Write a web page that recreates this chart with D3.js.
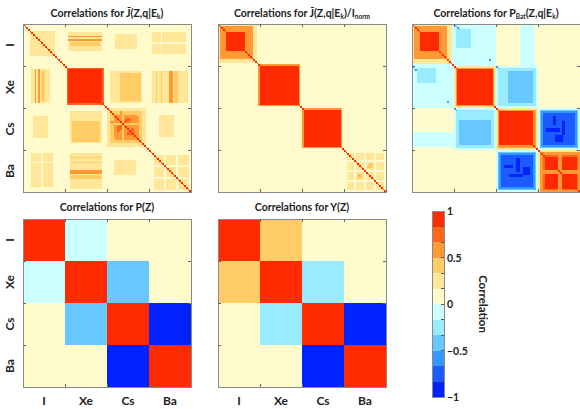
<!DOCTYPE html>
<html>
<head>
<meta charset="utf-8">
<script src="https://cdn.jsdelivr.net/npm/d3@7/dist/d3.min.js"></script>
<style>
    body { margin: 0; background: #fff; }
    text { font-family: Lato, 'Open Sans', sans-serif; fill: #222; }
</style>
</head>
<body>
<svg id="chart" width="580" height="409"></svg>
<script>
// element blocks along both axes
const labels = ['I', 'Xe', 'Cs', 'Ba'];
// q bins across the four elements (25 per element)
const gridSize = 100;

// correlation patches: [row0, row1, col0, col1, value]
// painted in order, mirrored across the diagonal
const jbarPatches = [
    [0, 100, 0, 100, 0.08],
    [4, 19, 4, 19, 0.25],
    [5, 16, 27, 47, 0.25],
    [7, 8, 27, 47, 0.6],
    [9, 10, 27, 47, 0.6],
    [11, 13, 28, 46, 0.4],
    [26, 48, 26, 48, 0.75],
    [27, 47, 27, 47, 1],
    [28, 47, 52, 71, 0.25],
    [29, 46, 58, 70, 0.4],
    [28, 47, 77, 98, 0.25],
    [28, 47, 79, 80, 0.4],
    [28, 47, 82, 83, 0.4],
    [28, 47, 87, 89, 0.6],
    [28, 47, 90, 92, 0.4],
    [6, 15, 55, 68, 0.25],
    [5, 18, 77, 97, 0.25],
    [5, 18, 82, 83, 0.08],
    [11, 12, 77, 97, 0.08],
    [50, 73, 50, 73, 0.25],
    [52, 71, 52, 71, 0.4],
    [54, 69, 55, 68, 0.6],
    [52, 54, 58, 60, 0.6],
    [57, 59, 60, 63, 0.75],
    [61, 64, 56, 58, 0.75],
    [64, 66, 62, 65, 0.75],
    [59, 60, 52, 70, 0.4],
    [54, 67, 81, 90, 0.25],
    [78, 99, 78, 99, 0.25],
    [84, 85, 78, 99, 0.08],
    [91, 92, 78, 99, 0.08]
];

const jnormPatches = [
    [0, 100, 0, 100, 0.08],
    [0, 23, 0, 23, 0.25],
    [1, 21, 1, 21, 0.6],
    [5, 16, 5, 16, 1],
    [24, 49, 24, 49, 0.6],
    [25, 48, 25, 48, 1],
    [50, 74, 50, 74, 0.6],
    [51, 73, 51, 73, 1],
    [77, 99, 77, 99, 0.25],
    [81, 82, 77, 99, 0.08],
    [87, 88, 77, 99, 0.08],
    [93, 94, 77, 99, 0.08],
    [83, 86, 89, 92, 0.4]
];

const pbatPatches = [
    [0, 100, 0, 100, 0.08],
    [0, 25, 24, 50, -0.1],
    [0, 25, 64, 73, -0.1],
    [25, 50, 50, 75, -0.1],
    [3, 14, 26, 35, -0.25],
    [26, 49, 51, 74, -0.25],
    [28, 47, 57, 72, -0.4],
    [0, 24, 0, 24, 0.25],
    [1, 21, 1, 21, 0.6],
    [5, 16, 5, 16, 1],
    [25, 50, 25, 50, 0.25],
    [26, 49, 26, 49, 0.6],
    [27, 48, 27, 48, 1],
    [50, 75, 50, 75, 0.25],
    [51, 74, 51, 74, 0.6],
    [52, 72, 52, 72, 1],
    [50, 75, 75, 100, -0.1],
    [51, 74, 76, 99, -0.4],
    [52, 73, 77, 98, -0.6],
    [53, 72, 78, 97, -0.75],
    [55, 60, 84, 86, -0.9],
    [58, 66, 89, 91, -0.9],
    [62, 64, 80, 88, -0.9],
    [66, 70, 85, 90, -0.9],
    [75, 100, 75, 100, 0.25],
    [76, 100, 76, 100, 0.6],
    [78, 99, 78, 99, 0.75],
    [87, 89, 78, 99, 0.6],
    [79, 87, 79, 87, 1],
    [89, 98, 89, 98, 1],
    [79, 87, 89, 98, 1],
    [0, 1, 25, 26, -0.6],
    [1, 2, 26, 27, -0.6],
    [2, 3, 27, 28, -0.6],
    [21, 22, 46, 47, -0.6],
    [25, 26, 50, 51, -0.6],
    [26, 27, 51, 52, -0.6],
    [72, 73, 97, 98, -0.6],
    [73, 74, 98, 99, -0.6]
];

// element-level correlations
const pZ = [
    [1, -0.1, 0.05, 0.05],
    [-0.1, 1, -0.45, 0.05],
    [0.05, -0.45, 1, -0.95],
    [0.05, 0.05, -0.95, 1]
];
const yZ = [
    [1, 0.4, 0.05, 0.05],
    [0.4, 1, -0.25, 0.05],
    [0.05, -0.25, 1, -0.95],
    [0.05, 0.05, -0.95, 1]
];

const colorbarTicks = [1, 0.5, 0, -0.5, -1];

const palette = ['#0022ff', '#1a5cff', '#3399ff', '#66c8ff', '#99ebff', '#ccffff',
    '#fffbcc', '#ffe699', '#ffcc66', '#ff9933', '#ff6619', '#ff2a00'];
const color = d3.scaleQuantize().domain([-1, 1]).range(palette);

const panelSize = 168;
const svg = d3.select('#chart');

/**
 * Paints the patches into a gridSize x gridSize matrix, self-correlation on the diagonal.
 */
function buildMatrix(patches) {
    const m = Array.from({ length: gridSize }, () => new Array(gridSize).fill(0));
    patches.forEach(([r0, r1, c0, c1, v]) => {
        for (let r = r0; r < r1; r++) {
            for (let c = c0; c < c1; c++) {
                m[r][c] = v;
                m[c][r] = v;
            }
        }
    });
    for (let i = 0; i < gridSize; i++) m[i][i] = 1;
    return m;
}

/**
 * Frame plus inward ticks at the element boundaries.
 */
function drawFrame(g) {
    g.append('rect')
        .attr('width', panelSize)
        .attr('height', panelSize)
        .attr('fill', 'none')
        .attr('stroke', '#8a8a8a')
        .attr('stroke-width', 1)
        .attr('shape-rendering', 'crispEdges');
    const pos = [1, 2, 3].map(i => i * panelSize / 4);
    const ticks = [];
    pos.forEach(p => {
        ticks.push([p, 0, p, 3], [p, panelSize, p, panelSize - 3]);
        ticks.push([0, p, 3, p], [panelSize, p, panelSize - 3, p]);
    });
    g.selectAll('line.tick')
        .data(ticks)
        .join('line')
        .attr('class', 'tick')
        .attr('x1', d => d[0]).attr('y1', d => d[1])
        .attr('x2', d => d[2]).attr('y2', d => d[3])
        .attr('stroke', '#666')
        .attr('shape-rendering', 'crispEdges');
}

function drawTitle(x, y, parts) {
    const t = svg.append('text')
        .attr('x', x)
        .attr('y', y)
        .attr('text-anchor', 'middle')
        .attr('font-size', 10.5)
        .attr('font-weight', 700);
    let lowered = false;
    parts.forEach(p => {
        if (typeof p === 'string') {
            t.append('tspan').attr('dy', lowered ? -2 : 0).text(p);
            lowered = false;
        } else {
            t.append('tspan').attr('font-size', 6.5).attr('dy', 2).text(p.sub);
            lowered = true;
        }
    });
}

/**
 * Heat map of a fine q-resolved correlation matrix, rows merged into runs.
 */
function drawFine(x0, y0, patches) {
    const matrix = buildMatrix(patches);
    const scale = d3.scaleLinear().domain([0, gridSize]).range([0, panelSize]);
    const runs = [];
    matrix.forEach((row, r) => {
        let start = 0;
        for (let c = 1; c <= row.length; c++) {
            if (c === row.length || color(row[c]) !== color(row[start])) {
                runs.push({ r, c0: start, c1: c, v: row[start] });
                start = c;
            }
        }
    });
    const g = svg.append('g').attr('transform', `translate(${x0},${y0})`);
    g.selectAll('rect.cell')
        .data(runs)
        .join('rect')
        .attr('class', 'cell')
        .attr('x', d => scale(d.c0))
        .attr('y', d => scale(d.r))
        .attr('width', d => scale(d.c1) - scale(d.c0))
        .attr('height', d => scale(d.r + 1) - scale(d.r))
        .attr('fill', d => color(d.v))
        .attr('shape-rendering', 'crispEdges');
    drawFrame(g);
    return g;
}

/**
 * Heat map of an element-level 4x4 matrix.
 */
function drawCoarse(x0, y0, matrix) {
    const band = d3.scaleBand().domain(labels).range([0, panelSize]);
    const cells = [];
    matrix.forEach((row, i) => row.forEach((v, j) => cells.push({ r: labels[i], c: labels[j], v })));
    const g = svg.append('g').attr('transform', `translate(${x0},${y0})`);
    g.selectAll('rect.cell')
        .data(cells)
        .join('rect')
        .attr('class', 'cell')
        .attr('x', d => band(d.c))
        .attr('y', d => band(d.r))
        .attr('width', band.bandwidth())
        .attr('height', band.bandwidth())
        .attr('fill', d => color(d.v))
        .attr('shape-rendering', 'crispEdges');
    drawFrame(g);
    return band;
}

function drawRowLabels(y0) {
    const band = d3.scaleBand().domain(labels).range([y0, y0 + panelSize]);
    svg.selectAll(null)
        .data(labels)
        .join('text')
        .attr('transform', d => `translate(14,${band(d) + band.bandwidth() / 2}) rotate(-90)`)
        .attr('text-anchor', 'middle')
        .attr('font-size', 12)
        .attr('font-weight', 700)
        .text(d => d);
}

function drawColLabels(x0, y) {
    const band = d3.scaleBand().domain(labels).range([x0, x0 + panelSize]);
    svg.selectAll(null)
        .data(labels)
        .join('text')
        .attr('x', d => band(d) + band.bandwidth() / 2)
        .attr('y', y)
        .attr('text-anchor', 'middle')
        .attr('font-size', 12)
        .attr('font-weight', 700)
        .text(d => d);
}

// top row
drawFine(23, 24, jbarPatches);
drawFine(218, 24, jnormPatches);
drawFine(412, 24, pbatPatches);
drawTitle(107, 17, ['Correlations for J\u0304(Z,q|E', { sub: 'k' }, ')']);
drawTitle(302, 17, ['Correlations for J\u0304(Z,q|E', { sub: 'k' }, ')/I', { sub: 'norm' }]);
drawTitle(496, 17, ['Correlations for P', { sub: 'Bat' }, '(Z,q|E', { sub: 'k' }, ')']);
drawRowLabels(24);

// bottom row
drawCoarse(23, 219, pZ);
drawCoarse(218, 219, yZ);
drawTitle(107, 211, ['Correlations for P(Z)']);
drawTitle(302, 211, ['Correlations for Y(Z)']);
drawRowLabels(219);
drawColLabels(23, 405);
drawColLabels(218, 405);

// colour bar
const cbY = d3.scaleLinear().domain([-1, 1]).range([397, 211]);
const steps = d3.range(12).map(i => -1 + i / 6);
const cb = svg.append('g').attr('transform', 'translate(432,0)');
cb.selectAll('rect')
    .data(steps)
    .join('rect')
    .attr('x', 0)
    .attr('y', d => cbY(d + 1 / 6))
    .attr('width', 12)
    .attr('height', d => cbY(d) - cbY(d + 1 / 6))
    .attr('fill', d => color(d + 1 / 12))
    .attr('shape-rendering', 'crispEdges');
cb.append('rect')
    .attr('y', cbY(1))
    .attr('width', 12)
    .attr('height', cbY(-1) - cbY(1))
    .attr('fill', 'none')
    .attr('stroke', '#8a8a8a')
    .attr('shape-rendering', 'crispEdges');
cb.selectAll('line.minor')
    .data(steps.slice(1))
    .join('line')
    .attr('class', 'minor')
    .attr('x1', 9).attr('x2', 12)
    .attr('y1', d => cbY(d)).attr('y2', d => cbY(d))
    .attr('stroke', '#555')
    .attr('shape-rendering', 'crispEdges');
cb.selectAll('text')
    .data(colorbarTicks)
    .join('text')
    .attr('x', 15)
    .attr('y', d => cbY(d) + 4)
    .attr('font-size', 10.5)
    .attr('font-weight', 700)
    .text(d => d < 0 ? '\u2212' + Math.abs(d) : d);
svg.append('text')
    .attr('transform', `translate(479,${cbY(0)}) rotate(90)`)
    .attr('text-anchor', 'middle')
    .attr('font-size', 11.5)
    .attr('font-weight', 700)
    .text('Correlation');
</script>
</body>
</html>
